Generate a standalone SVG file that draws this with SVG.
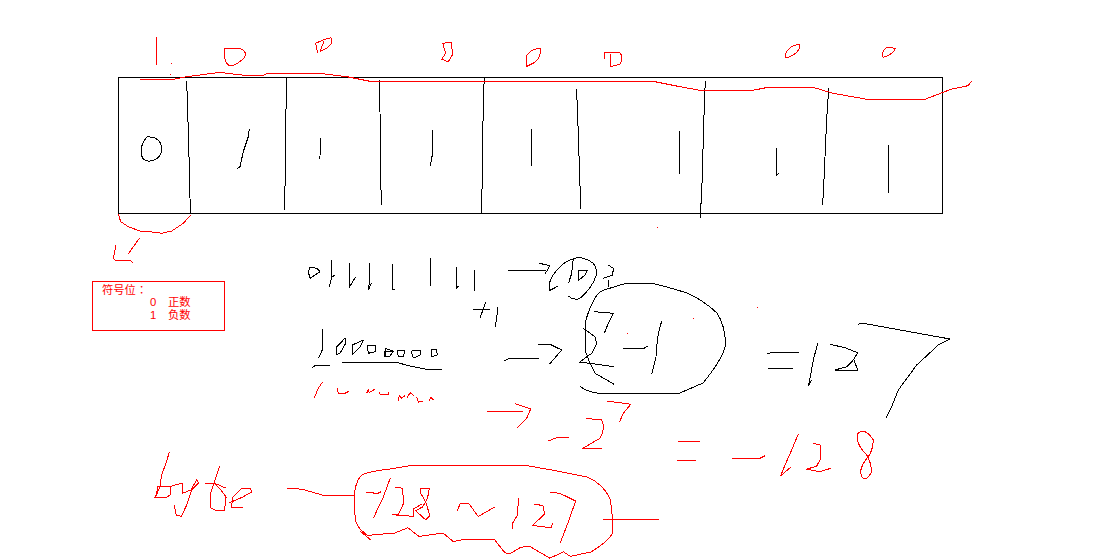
<svg xmlns="http://www.w3.org/2000/svg" width="1103" height="560" viewBox="0 0 1103 560">
<style>
polyline,polygon,rect,path{fill:none;stroke-width:1;shape-rendering:crispEdges;stroke-linejoin:round}
.k polyline,.k polygon,.k rect,.k path{stroke:#000}
.r polyline,.r polygon,.r rect,.r path{stroke:#f00}
.d rect{fill:#f00;stroke:none}
text{fill:#f00;font-size:11.3px;font-family:"Liberation Sans","Noto Sans CJK SC",sans-serif}
.colon{font-family:"Liberation Sans","Noto Sans CJK TC",sans-serif}
</style>
<rect width="1103" height="560" fill="#fff" style="stroke:none"/>
<g id="black" class="k">
<rect x="118.5" y="77.5" width="824" height="136"/>
<polyline points="186.7,80.7 187.3,100 188.3,131.7 189.3,166.7 190,198.3 190.7,213.3"/>
<polyline points="286.7,77.3 286,110 285.3,176.7 284.3,210"/>
<polyline points="379.3,80 380,111.7 380.7,173.3 381.3,205"/>
<polyline points="484.3,77.3 483.3,100 482.7,145 482,190 481.3,213.3"/>
<polyline points="576.3,89 577.3,105 578.3,135 579.3,165 580.3,195 580.7,209"/>
<polyline points="705.3,81 703.7,123.3 702.3,176.7 700.3,218.3"/>
<polyline points="828.7,88.3 826.7,118.3 825,156.7 823.3,195 822.3,205"/>
<path d="M147,137 Q161,136 162,150 Q160,160 150,161 Q141,162 141,150 Q142,142 147,137"/>
<polyline points="249.3,129 248.3,136.7 243.3,151.7 240,166.7 237.3,168.3"/>
<polyline points="320.3,138.3 320,156.7 319,159.3"/>
<polyline points="432.3,130 432.3,155 430.3,165.7"/>
<polyline points="531.3,129 531.7,166.3"/>
<polyline points="679.3,131 679.3,173.7"/>
<polyline points="776.3,148.3 776.3,175.7 778.7,173.3"/>
<polyline points="888.3,145 888.3,192.7"/>
<polygon points="310,267.3 316.7,268.3 320,271.7 310,278.3 308.3,271.7"/>
<polyline points="331.7,260 331.7,277.3 329.3,286.7"/>
<polyline points="331.7,277.3 335,275"/>
<polyline points="349.3,262.7 349.3,287.3 355.3,277.3"/>
<polyline points="369.3,263.3 369.3,283.3 368.3,290 371.7,282.7"/>
<polyline points="392.3,264 392.3,290 395,289"/>
<polyline points="430.3,258.3 430.3,285.7"/>
<polyline points="456,267.3 456,288.7 458.3,286"/>
<polyline points="474.3,270 474.3,290.7"/>
<polyline points="473.3,310 490,309.3"/>
<polyline points="485.7,301.7 480,318.3"/>
<polyline points="497.7,306.7 496.7,318.3 495.3,326.7"/>
<polyline points="322.3,329.3 322.3,350 318.3,358.3"/>
<polyline points="311.7,367.7 315,365.7 330,365.3"/>
<polyline points="342.3,362.3 396.7,362.3 408.3,365.7 425,369 441.7,369"/>
<polygon points="336.7,354.3 336.7,346.7 345,338.3 345.7,343.3 340,353.3"/>
<polygon points="352.3,354.3 352.3,345 363.3,340 360,347.3"/>
<polygon points="367.3,345.3 375,345 375,351.7 368.3,353.3"/>
<polyline points="385,356 385,348.3 393.3,351 390,356 384.3,356 385,351 393.3,351"/>
<polygon points="397.3,351 405,350 403.3,356.7 398.3,356.7"/>
<polygon points="411.7,351 420,350 420,355 415,357.7 412.3,356.7"/>
<polygon points="431.7,349.3 436.7,350 437.3,355 431.7,356.7"/>
<polyline points="508.3,270 546,270"/>
<polyline points="539.3,263.3 550,265.7 545,274"/>
<path d="M558.3,286 L549.3,290.7 L549.3,283.3 Q552,275 558,269 Q566,260 575,258.3 Q583,256 593.3,263.3 Q598,270 596,276 Q592,288 580,298.3 Q574,301 568.3,296"/>
<polyline points="573.3,258.3 571.7,273.3 568.7,282.7"/>
<polygon points="578.3,280.7 578.3,270 587.3,270 585,275"/>
<polyline points="608.3,265 613.3,268.3 612.7,275 603.3,278.3"/>
<polyline points="608.3,280 608.3,286.7"/>
<path d="M585,350 L585,323 Q590,305 597,295 Q600,291 604,290 L627,283 L650,283 Q665,286 687,293 Q703,300 717,313 Q725,325 725.7,345 Q722,360 703,383 L680,393 L597,393 Q585,391 580,386"/>
<polyline points="594,311.7 613.3,313.3 608.3,323.3 604.3,333.3"/>
<polyline points="583.3,328.3 595,336.7 596.7,343.3 591.7,353.3 579.3,362.3 590,363.3 614,366.7"/>
<polyline points="585,350 590,363.3 595,373.3 606.7,380 614,384.3"/>
<polyline points="622.7,348.7 643.3,348.7 648.3,345.7"/>
<polyline points="661.7,321 658.3,333.3 656.7,346.7 656,356.7 651.7,374.3"/>
<polyline points="504.3,360.7 510,358.3 539.3,358.3"/>
<polyline points="538.3,344.3 550,344.3 561.7,350 549.3,364.3"/>
<polyline points="766.7,354 771.7,352.3 799,352.3"/>
<polyline points="767.7,368.3 793.3,368.3"/>
<polyline points="817.7,343.3 813.3,360 810,378.3 808.3,386 811.7,380"/>
<polyline points="830,344.3 845,347.7 857.7,352.7 853.3,360 846.7,366.7 835,370 857.7,370 854,360"/>
<polyline points="857.7,324.3 863.3,323.3 900,330 950,339 938.3,345 916.7,365 898.3,390 891.7,406.7 885.7,418.3"/>
</g>
<g id="red" class="r">
<polyline points="156,37 156,65"/>
<polyline points="140,79 175,79 187,76.7 200,75 220,72.3 233,74 245,75.3 263,75.3 268,73.3 323,73.7 347,76.7 370,81.3 653,81.3 680,86.7 700,90.3 753,90.3 768,87.3 813,87.3 833,93.3 867,99.3 925,99.3 942,92.7 952,89 968,85.7 972,80.7"/>
<path d="M225,48.3 L238,48.3 Q245,49 245.7,55 Q244,60 233,65.7 Q226,67 224.3,56.7 Q224,52 225,48.3"/>
<polyline points="317.7,53.3 315.7,43.3 323,40 331,37.7 331.7,43.3 326.7,48.3 320,51.7 324,41"/>
<polygon points="442.7,43.3 451.7,42.3 452.3,55 448.3,61.7 441.7,59.3 445.7,53.3"/>
<path d="M526,66.7 L526,56.7 Q530,49 540,48.3 Q542,56 535,62.3 L526,66.7"/>
<path d="M604.3,59.3 L604.3,52.7 L620,52.7 Q624,58 620,64.3 L610.7,66.7 L610,53.3"/>
<path d="M785.7,58.3 L785.7,53.3 Q790,45 799.3,44.3 Q801,50 793.3,55 L785.7,58.3"/>
<path d="M883.3,57.3 Q880,53 886.7,47.3 L895.7,48.3 Q892,55 883.3,57.3"/>
<polyline points="118.3,214 120.7,221.7 128.3,226.7 140,231 150,231.7 161.7,233.3 171.7,231 183.3,223.3 190.7,215"/>
<polyline points="139.3,238.3 128,254.3"/>
<polyline points="116,245 113.3,258.3 115,260 130,260 133.3,263.3"/>
<polyline points="322.3,382.3 318.3,388.3 314.3,397.7"/>
<polyline points="337.3,388.3 338.3,393.3 345,393.3 349.3,391"/>
<polyline points="366.7,393.3 368.3,389.3 369.3,392.7 375,389"/>
<polyline points="379.3,391.7 380,394.3 388.3,394.3 389,391.7"/>
<polyline points="398.3,400.7 399.3,395.7 401.7,398.3 405,395.7"/>
<polyline points="406.7,398.3 410,392.7 414.3,395.7"/>
<polyline points="416.7,396.7 418.3,402.3 423.3,401"/>
<polyline points="429.3,400.7 430.7,397.3 433.3,400"/>
<polyline points="487.3,411.3 523.3,411.3"/>
<polyline points="515,403.7 530.7,409 526.7,418.3 517.3,427.7"/>
<polyline points="548.3,441 556.7,437.7 569,437.7"/>
<path d="M585.7,418.3 L601.7,420 Q606,428 600,438.3 L581.7,449 L601.7,448.3"/>
<polyline points="607.3,401 630.7,404.3 623.3,413.3 619.3,422.3"/>
<polyline points="677.7,441.3 700,442"/>
<polyline points="676.7,461 696,460.3"/>
<polyline points="732.3,459 760,458.3 765,455.7"/>
<polyline points="798.3,434 791.7,450 785,465 780.7,475.7 790.7,467.3"/>
<polyline points="813.3,443.3 820,445 821,458.3 816.7,466 806.7,469.3 820,471.7 830.7,468.3"/>
<path d="M858.3,432.7 Q866,428 873.3,440 Q873,452 866.7,458.3 Q858,470 861.7,476.7 Q866,483 871.7,471.7 Q871,462 866.7,455 Q854,442 858.3,432.7"/>
<polyline points="169.3,452 165.8,464.1 161.7,474.4 160,486.5 157.2,493.4 154.5,497.9 165.8,497.9 170,495.1 170,486.5 157.9,486.5 156.5,494.4"/>
<polyline points="170,486.5 182.4,483 182.4,493.4 191,489.9 196.8,479.6 198.5,483 191.7,489.9 186.5,505.4 181.3,516.4 176.2,515.1 174.4,505.4"/>
<polyline points="219.9,465.8 214,483 210.6,493.4 210.6,507.8 215.8,510.6 224.4,510.6 226.1,496.8 220.9,489.9 214,483"/>
<polyline points="205.4,483 214,483 226.1,488.2"/>
<polyline points="229.5,502.7 243.3,496.8 251.9,491.7 250.2,488.2 241.6,488.2 233,496.8 231.3,507.1 242.6,507.1"/>
<polyline points="287.4,488.2 301.8,489.2 322.5,495.1 354.2,495.8"/>
<path d="M354.2,495.8 Q355,484 360.4,476.2 Q365,472 387.9,469.3 L413.8,465.1 L524,465.1 L553.2,470.3 L587.7,477.2 Q603,484 610,498.5 Q612,510 612.4,519.2 L612.4,533 Q609,541 591.1,551.9 L570.4,556.4 L563.6,551.9 L549.8,558.1 L529.1,546.1 L520.5,547.4 L510.2,553.6 L505,552.9 L494.7,539.9 L465.4,539.2 L453.4,541.6 L443,533 L418.9,536.4 L407.9,527.8 L394.8,533 L367.3,535.4 L360.4,529.5 Q355,522 355.2,519.2 L354.2,495.8"/>
<polyline points="360.4,531.3 370.7,539.9"/>
<polyline points="603.2,519.9 659.3,519.9"/>
<polyline points="366.2,492.3 377.6,493.4 381,491.7"/>
<polyline points="390.3,477.9 382.8,498.5 377.6,508.9 373.5,518.2"/>
<polyline points="394.8,487.2 402.7,488.2 403.4,503.7 398.3,514.7 392.4,514.7 413.8,516.4 413.8,508.9 422.4,503.7"/>
<polygon points="420.7,488.2 429.3,488.2 427.5,498.5 422.4,507.1 415.5,510.6 425.7,519.9 429.9,515.8 425.8,502 420.7,493.4"/>
<polyline points="456.8,511.6 460.2,503.7 468.9,503.7 478.2,516.4 494.7,507.1"/>
<polyline points="518.8,498.5 517,515.8 512.9,522.6 511.9,529.5"/>
<polyline points="534.3,504.4 542.9,505.4 544.6,514 532.6,525.4 551.5,527.8 552.5,522.6"/>
<polyline points="550.5,492.3 560.1,493.4 575.6,501 568.7,520.9 560.1,543.3"/>
</g>
<g id="dots" class="d">
<rect x="171" y="63" width="1" height="1"/>
<rect x="170" y="74" width="1" height="1"/>
<rect x="657" y="227" width="1" height="1"/>
<rect x="757" y="307" width="1" height="1"/>
<rect x="693" y="318" width="1" height="1"/>
<rect x="627" y="333" width="1" height="1"/>
</g>
<g id="sign-note" class="r">
<rect x="92.5" y="281.5" width="132" height="49"/>
<text><tspan x="102" y="294">符号位<tspan class="colon">：</tspan></tspan><tspan x="150" y="305.5">0</tspan><tspan x="168" y="305.5">正数</tspan><tspan x="150" y="318.5">1</tspan><tspan x="168" y="318.5">负数</tspan></text>
</g>
</svg>
